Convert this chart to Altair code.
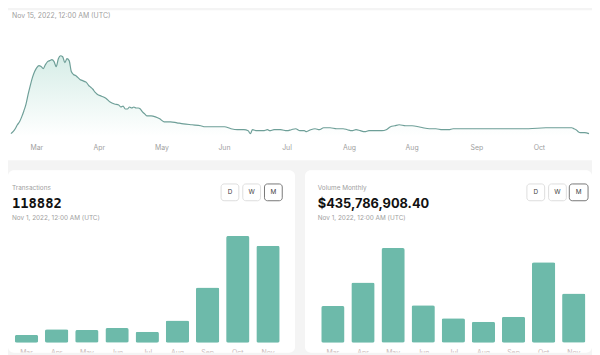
import altair as alt
import pandas as pd

# ---------------- data ----------------
# daily series (day offset from first day, value in chart units)
days = [0,1,2,3,4,5,6,7,8,9,10,11,12,13,14,15,16,17,18,19,20,21,22,23,24,25,26,27,28,29,
        30,31,32,33,34,35,36,37,38,39,40,42,44,46,48,50,51,52,53,54,55,56,57,58,59,60,61,62,63,
        65,67,69,71,74,77,80,84,88,90,95,99,102,105,108,110,111,112,114,117,119,120,122,125,128,
        130,132,134,136,137,139,141,143,145,148,151,154,156,158,160,162,164,166,169,172,174,176,
        178,180,183,186,189,191,194,197,200,203,205,210,220,230,240,248,255,260,261,262,263,264,266,268]
ys = [133,131,128,124,121,116,110,103,93,84,76,70,66,64,65,67,63,60,59,58,60,65,57,54,55,61,57,59,70,73,
      74,76,78,79,80,81,84,86,88,91,93,95,97,101,103,104,106,105,108,108,106,107,106,107,107,108,111,113,115,
      115,116,118,121,121,122,123,124,125,126,126,126,128,129,129,130,133,129,130,130,129,130,129,129,130,
      129,128,130,130,131,129,128,129,127,127,128,128,129,130,129,130,131,130,130,130,129,126,
      125,124,125,125,126,127,128,128,129,129,128,128,128,128,128,127,127,127,128,129,131,132,132,133]
values = [136 - v for v in ys]

tick_days = [12, 41, 70, 99, 128, 157, 186, 216, 245]
tick_labels = ["Mar", "Apr", "May", "Jun", "Jul", "Aug", "Aug", "Sep", "Oct"]

months = ["Mar", "Apr", "May", "Jun", "Jul", "Aug", "Sep", "Oct", "Nov"]
transactions = [9680, 16570, 15720, 18140, 13670, 27450, 67730, 130980, 118882]
volume = [325.1e6, 531.7e6, 836.7e6, 331.2e6, 217.9e6, 185.6e6, 229.2e6, 712.1e6, 435786908.40]

line_df = pd.DataFrame({"day": days, "value": values})
tick_df = pd.DataFrame({"day": tick_days, "label": tick_labels})
tx_df = pd.DataFrame({"month": months, "value": transactions})
vol_df = pd.DataFrame({"month": months, "value": volume})

# ---------------- styles ----------------
FONT = "Inter"
GRAY = "#a0a0a0"
BAR = "#6dbaaa"
LINE = "#6e9f98"
one = alt.Data(values=[{}])


def txt(s, x, y, size=7, color=GRAY, weight="normal", font=FONT, align="left"):
    return alt.Chart(one).mark_text(
        align=align, baseline="middle", fontSize=size, color=color,
        fontWeight=weight, font=font
    ).encode(x=alt.value(x), y=alt.value(y), text=alt.value(s))


def button(x0, x1, y0, y1, letter, active=False):
    box = alt.Chart(one).mark_rect(
        cornerRadius=3, fill="white", stroke="#777777" if active else "#dddddd", strokeWidth=1
    ).encode(x=alt.value(x0), x2=alt.value(x1), y=alt.value(y0), y2=alt.value(y1))
    lab = txt(letter, (x0 + x1) / 2, (y0 + y1) / 2, size=6.5, color="#444444", align="center")
    return [box, lab]


# ---------------- top card ----------------
xdom = [-1.35, 269.4]
xs = alt.Scale(domain=xdom, nice=False, zero=False)
ysc = alt.Scale(domain=[-24, 128], nice=False, zero=False)

area = alt.Chart(line_df).mark_area(
    color=alt.Gradient(
        gradient="linear",
        stops=[alt.GradientStop(color="#ffffff", offset=0),
               alt.GradientStop(color="#d6ede7", offset=1)],
        x1=1, x2=1, y1=1, y2=0),
    interpolate="monotone"
).encode(x=alt.X("day:Q", scale=xs, axis=None),
         y=alt.Y("value:Q", scale=ysc, axis=None),
         y2=alt.datum(0))

line = alt.Chart(line_df).mark_line(color=LINE, strokeWidth=1.2, interpolate="monotone").encode(
    x=alt.X("day:Q", scale=xs, axis=None),
    y=alt.Y("value:Q", scale=ysc, axis=None))

ticks = alt.Chart(tick_df).mark_text(fontSize=7, color=GRAY, font=FONT, baseline="middle").encode(
    x=alt.X("day:Q", scale=xs, axis=None), y=alt.value(140), text="label:N")

top = alt.layer(
    area, line, ticks,
    txt("Nov 15, 2022, 12:00 AM (UTC)", 4, 6),
).properties(width=592, height=152,
             view=alt.ViewBackground(fill="white", stroke=None, cornerRadius=0))


# ---------------- bottom cards ----------------
def bar_card(df, rng, ymax, title, big, big_font, big_size, tx, btns):
    xenc = alt.X("month:N", sort=months, axis=None,
                 scale=alt.Scale(range=rng, paddingInner=0.226, paddingOuter=0))
    bars = alt.Chart(df).mark_bar(color=BAR, cornerRadius=2).encode(
        x=xenc,
        y=alt.Y("value:Q", axis=None, scale=alt.Scale(domain=[0, ymax], range=[175, 0], nice=False)))
    labs = alt.Chart(df).mark_text(fontSize=7, color="#c8b8b8", font=FONT, baseline="top", clip=True).encode(
        x=xenc, y=alt.value(181), text="month:N")
    layers = [bars, labs,
              txt(title, tx, 18, size=6.5),
              txt(big, tx, 34, size=big_size, color="#111111", weight="bold", font=big_font),
              txt("Nov 1, 2022, 12:00 AM (UTC)", tx, 49, size=6.5)]
    for b in btns:
        layers += button(*b)
    return alt.layer(*layers).properties(
        width=291, height=185,
        view=alt.ViewBackground(fill="white", stroke=None, cornerRadius=6))


left = bar_card(tx_df, [6.9, 275.4], 175 * 1209.4, "Transactions", "118882",
                "DejaVu Sans Mono", 14, 4,
                [(216, 234, 14, 31, "D"), (238, 256, 14, 31, "W"), (260, 278, 14, 31, "M", True)])
right = bar_card(vol_df, [16.5, 284.3], 175 * 8.716e6, "Volume Monthly", "$435,786,908.40",
                 FONT, 13, 13,
                 [(225, 243, 14, 31, "D"), (247, 265, 14, 31, "W"), (268, 287, 14, 31, "M", True)])

chart = alt.vconcat(
    top,
    alt.hconcat(left, right, spacing=10),
    spacing=10,
).properties(background="#f4f4f4", padding=0).configure_view(stroke=None)

chart.save("out.html", embed_options={"renderer": "svg", "actions": False})
